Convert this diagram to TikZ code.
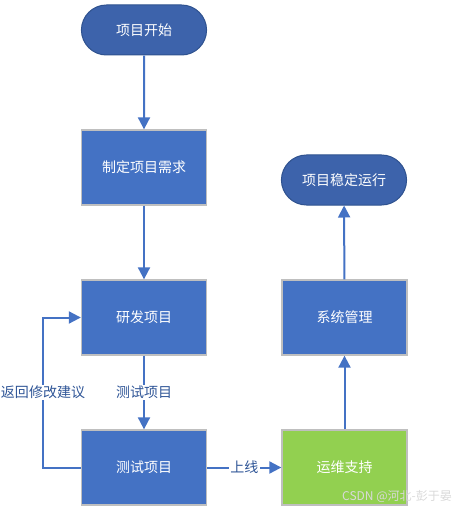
\documentclass[tikz,border=0pt]{standalone}
\usepackage{fontspec}
\setmainfont{Noto Sans CJK SC}
\usepackage{xcolor}
\usetikzlibrary{positioning,shapes,arrows.meta}
\definecolor{boxblue}{HTML}{4472C4}
\definecolor{termblue}{HTML}{3D63AB}
\definecolor{termedge}{HTML}{2F528F}
\definecolor{boxedge}{HTML}{BFBFBF}
\definecolor{okgreen}{HTML}{92D050}
\definecolor{labelblue}{HTML}{2F5597}

\begin{document}
\begin{tikzpicture}[x=0.75pt, y=-0.75pt,
  every node/.style={font=\fontsize{10.5}{12}\selectfont},
  terminal/.style={draw=termedge, fill=termblue, text=white, rounded rectangle, minimum width=100.5pt, minimum height=37.5pt, line width=0.75pt},
  process/.style={draw=boxedge, fill=boxblue, text=white, rectangle, minimum width=93.75pt, minimum height=56.25pt, line width=1pt},
  flow/.style={draw=boxblue, line width=1.5pt, -{Triangle[length=9pt,width=9pt]}},
  flowlabel/.style={fill=white, text=labelblue, inner sep=1pt}]
\useasboundingbox (0,0) rectangle (471,513);
% Main flow
\node[terminal] (start) at (144,30) {项目开始};
\node[process] (require) at (144,167.5) {制定项目需求};
\node[process] (develop) at (144,317.5) {研发项目};
\node[process] (test) at (144,467.5) {测试项目};
\node[process, fill=okgreen] (support) at (344.5,467.5) {运维支持};
\node[process] (manage) at (344.5,317.5) {系统管理};
\node[terminal] (stable) at (344,180) {项目稳定运行};

% Arrows
\draw[flow] (start) -- (require);
\draw[flow] (require) -- (develop);
\draw[flow] (develop) -- node[flowlabel] (testlabel) {测试项目} (test);
\draw[flow] (test) -- node[flowlabel] (onlinelabel) {上线} (support);
\draw[flow] (support) -- (manage);
\draw[flow] (manage) -- (stable);

% Feedback loop
\coordinate (loopbottom) at (43,467.5);
\coordinate (looptop) at (43,317.5);
\draw[flow] (test) -- (loopbottom) -- node[flowlabel] (backlabel) {返回修改建议} (looptop) -- (develop);

% Watermark
\node[font=\fontsize{9}{10}\selectfont, text=white!70!gray] (mark) at (397,496) {CSDN @河北-彭于晏};
\end{tikzpicture}
\end{document}
